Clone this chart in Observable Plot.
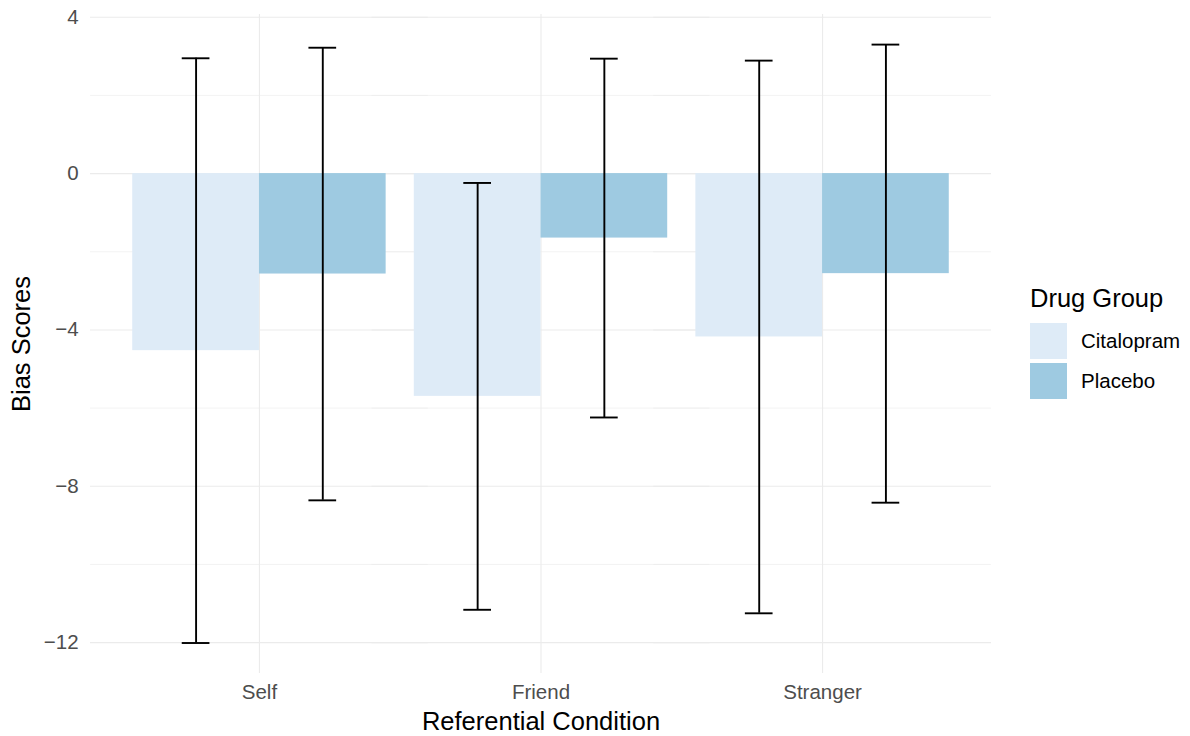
<!DOCTYPE html>
<html>
<head>
<meta charset="utf-8">
<script src="https://cdn.jsdelivr.net/npm/d3@7"></script>
<script src="https://cdn.jsdelivr.net/npm/@observablehq/plot@0.6"></script>
<style>
  body { margin: 0; background: #fff; }
  #wrap { position: relative; width: 1190px; height: 736px; font-family: "Liberation Sans", Arial, sans-serif; }
  #wrap svg [aria-label="y-axis label"], #wrap svg [aria-label="fx-axis label"] { font-size: 25.5px; fill: #000; }
  #legend { position: absolute; left: 1030px; top: 283px; color: #000; }
  #legend .title { font-size: 25.5px; line-height: 30px; margin-bottom: 10px; }
  #legend .row { display: flex; align-items: center; height: 36px; margin-bottom: 4px; }
  #legend .key { width: 37px; height: 36px; margin-right: 14px; }
  #legend .lab { font-size: 20.5px; }
</style>
</head>
<body>
<div id="wrap"></div>
<script>
// Referential conditions and drug groups
const conditions = ["Self", "Friend", "Stranger"];
const groups = ["Citalopram", "Placebo"];

// Mean bias scores and error-bar half widths, per condition
const citalopramMean = [-4.53, -5.70, -4.18];
const citalopramError = [7.48, 5.46, 7.07];
const placeboMean = [-2.57, -1.65, -2.56];
const placeboError = [5.79, 4.59, 5.86];

// Axis ticks
const yTicks = [-12, -8, -4, 0, 4];
const yMinorTicks = [-10, -6, -2, 2];

const groupColors = ["#deebf7", "#9ecae1"];

const rows = [];
conditions.forEach((c, i) => {
  rows.push({condition: c, group: groups[0], mean: citalopramMean[i],
             lo: citalopramMean[i] - citalopramError[i], hi: citalopramMean[i] + citalopramError[i]});
  rows.push({condition: c, group: groups[1], mean: placeboMean[i],
             lo: placeboMean[i] - placeboError[i], hi: placeboMean[i] + placeboError[i]});
});

const fmt = d => (d < 0 ? "\u2212" + Math.abs(d) : String(d));
const gridColor = "#ebebeb";
// the outer facet padding (0.15 of a 281.6px step); grid rules and the y axis reach past it
const outerPad = 42.2;

const plot = Plot.plot({
  width: 1190,
  height: 736,
  marginLeft: 90,
  marginRight: 199,
  marginTop: 14,
  marginBottom: 63,
  style: {fontFamily: '"Liberation Sans", Arial, sans-serif', fontSize: "20.5px", background: "#fff", color: "#4d4d4d"},
  fx: {domain: conditions, paddingInner: 0.1, paddingOuter: 0.15, round: false},
  x: {domain: groups, padding: 0, round: false, axis: null},
  y: {domain: [-12.79, 4.07]},
  color: {domain: groups, range: groupColors},
  marks: [
    Plot.ruleY(yMinorTicks, {stroke: gridColor, strokeWidth: 0.6, insetLeft: -outerPad, insetRight: -outerPad}),
    Plot.ruleY(yTicks, {stroke: gridColor, strokeWidth: 1.1, insetLeft: -outerPad, insetRight: -outerPad}),
    Plot.gridFx({stroke: gridColor, strokeOpacity: 1, strokeWidth: 1.1}),
    Plot.barY(rows, {fx: "condition", x: "group", y: "mean", fill: "group"}),
    Plot.ruleX(rows, {fx: "condition", x: "group", y1: "lo", y2: "hi", stroke: "#000", strokeWidth: 1.9}),
    Plot.tickY(rows, {fx: "condition", x: "group", y: "lo", stroke: "#000", strokeWidth: 1.9, insetLeft: 49.5, insetRight: 49.5}),
    Plot.tickY(rows, {fx: "condition", x: "group", y: "hi", stroke: "#000", strokeWidth: 1.9, insetLeft: 49.5, insetRight: 49.5}),
    Plot.axisY(yTicks, {tickSize: 0, tickPadding: 12 + outerPad, tickFormat: fmt, color: "#4d4d4d",
      label: "Bias Scores", labelAnchor: "center", labelOffset: 121, labelArrow: "none"}),
    Plot.axisFx({anchor: "bottom", tickSize: 0, tickPadding: 11, color: "#4d4d4d",
      label: "Referential Condition", labelAnchor: "center", labelOffset: 56, labelArrow: "none"})
  ]
});

const wrap = document.getElementById("wrap");
wrap.appendChild(plot);

// Legend for the drug groups, coloured from the plot's colour scale
const color = plot.scale("color");
const legend = document.createElement("div");
legend.id = "legend";
const title = document.createElement("div");
title.className = "title";
title.textContent = "Drug Group";
legend.appendChild(title);
for (const g of color.domain) {
  const row = document.createElement("div");
  row.className = "row";
  const key = document.createElement("div");
  key.className = "key";
  key.style.background = color.apply(g);
  const lab = document.createElement("div");
  lab.className = "lab";
  lab.textContent = g;
  row.appendChild(key);
  row.appendChild(lab);
  legend.appendChild(row);
}
wrap.appendChild(legend);
</script>
</body>
</html>
